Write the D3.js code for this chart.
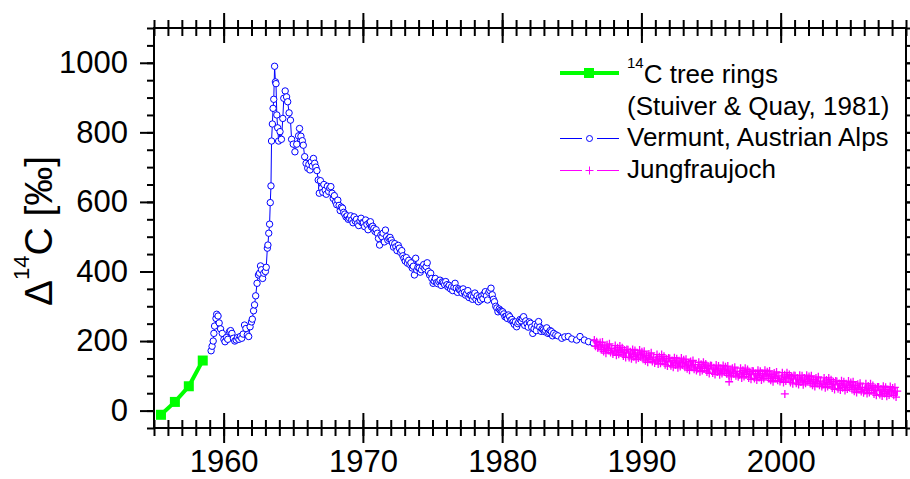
<!DOCTYPE html>
<html>
<head>
<meta charset="utf-8">
<script src="https://cdn.jsdelivr.net/npm/d3@7"></script>
<style>
  body { margin: 0; background: #fff; }
  text { font-family: "Liberation Sans", Arial, sans-serif; fill: #000; }
  .axis .tick line { stroke: #000; stroke-width: 2; }
  .axis text { font-size: 31px; font-family: "Liberation Sans", Arial, sans-serif; }
  .legend text { font-size: 26px; }
</style>
</head>
<body>
<div id="chart"></div>
<script>
const width = 910;
const height = 479;

// 14C tree rings (Stuiver & Quay, 1981)
const treeYears = [1955.5, 1956.5, 1957.5, 1958.5];
const treeD14C = [-12, 25, 70, 144];

// Vermunt, Austrian Alps: [year, D14C]
const vermunt = [
  [1959.10,172],[1959.17,185],[1959.25,200],[1959.30,222],[1959.35,243],[1959.45,265],[1959.50,277],[1959.60,272],
  [1959.68,252],[1959.78,235],[1959.90,222],[1960.02,205],[1960.10,198],[1960.20,210],[1960.30,205],[1960.42,227],
  [1960.50,230],[1960.60,222],[1960.70,208],[1960.80,200],[1960.90,203],[1961.00,210],[1961.10,205],[1961.20,213],
  [1961.30,208],[1961.40,220],[1961.50,246],[1961.60,236],[1961.70,218],[1961.80,213],[1961.90,241],[1962.00,255],
  [1962.06,263],[1962.15,287],[1962.22,304],[1962.30,330],[1962.40,366],[1962.50,390],[1962.58,395],[1962.65,416],
  [1962.72,405],[1962.80,380],[1962.88,395],[1963.00,400],[1963.06,412],[1963.14,467],[1963.18,476],[1963.24,510],
  [1963.30,536],[1963.35,598],[1963.40,646],[1963.44,775],[1963.50,824],[1963.55,869],[1963.60,895],[1963.66,990],
  [1963.72,945],[1963.76,940],[1963.82,850],[1963.88,813],[1963.95,775],[1964.05,802],[1964.15,780],[1964.25,840],
  [1964.32,898],[1964.42,919],[1964.52,902],[1964.60,888],[1964.70,856],[1964.80,835],[1964.88,780],[1965.00,766],
  [1965.12,744],[1965.25,766],[1965.38,790],[1965.45,811],[1965.55,789],[1965.65,776],[1965.72,763],[1965.82,730],
  [1965.92,711],
  [1966.04,697],[1966.12,708],[1966.20,692],[1966.29,715],[1966.37,703],[1966.45,725],[1966.54,711],[1966.62,700],
  [1966.70,690],[1966.79,663],[1966.87,625],[1966.95,661],
  [1967.04,640],[1967.12,628],[1967.20,650],[1967.29,634],[1967.37,622],[1967.45,645],[1967.54,630],[1967.62,640],
  [1967.70,644],[1967.79,625],[1967.87,610],[1967.95,618],
  [1968.04,600],[1968.12,592],[1968.20,605],[1968.29,590],[1968.37,575],[1968.45,585],[1968.54,582],[1968.62,570],
  [1968.70,565],[1968.79,557],[1968.87,560],[1968.95,550],
  [1969.04,553],[1969.12,560],[1969.20,548],[1969.29,540],[1969.37,557],[1969.45,545],[1969.54,550],[1969.62,538],
  [1969.70,532],[1969.79,545],[1969.87,553],[1969.95,540],
  [1970.04,540],[1970.12,529],[1970.20,548],[1970.29,535],[1970.37,520],[1970.45,540],[1970.54,543],[1970.62,528],
  [1970.70,530],[1970.79,524],[1970.87,515],[1970.95,520],
  [1971.04,510],[1971.12,495],[1971.20,476],[1971.29,505],[1971.37,500],[1971.45,510],[1971.54,485],[1971.62,519],
  [1971.70,500],[1971.79,490],[1971.87,495],[1971.95,498],
  [1972.04,490],[1972.12,482],[1972.20,470],[1972.29,480],[1972.37,471],[1972.45,460],[1972.54,475],[1972.62,467],
  [1972.70,455],[1972.79,460],[1972.87,445],[1972.95,438],
  [1973.04,430],[1973.12,440],[1973.20,424],[1973.29,432],[1973.37,420],[1973.45,425],[1973.54,410],[1973.62,415],
  [1973.70,390],[1973.79,438],[1973.87,404],[1973.95,412],
  [1974.04,410],[1974.12,398],[1974.20,405],[1974.29,415],[1974.37,420],[1974.45,408],[1974.54,414],[1974.62,425],
  [1974.70,400],[1974.79,390],[1974.87,395],[1974.95,380],
  [1975.04,366],[1975.12,372],[1975.20,380],[1975.29,368],[1975.37,365],[1975.45,371],[1975.54,375],[1975.62,360],
  [1975.70,370],[1975.79,368],[1975.87,362],[1975.95,371],
  [1976.04,362],[1976.12,355],[1976.20,360],[1976.29,350],[1976.37,356],[1976.45,345],[1976.54,355],[1976.62,366],
  [1976.70,352],[1976.79,340],[1976.87,350],[1976.95,347],
  [1977.04,345],[1977.12,338],[1977.20,350],[1977.29,340],[1977.37,332],[1977.45,337],[1977.54,345],[1977.62,325],
  [1977.70,332],[1977.79,330],[1977.87,320],[1977.95,328],
  [1978.04,338],[1978.12,320],[1978.20,330],[1978.29,313],[1978.37,325],[1978.45,318],[1978.54,330],[1978.62,322],
  [1978.70,335],[1978.79,342],[1978.87,330],[1978.95,318],
  [1979.04,340],[1979.12,345],[1979.20,352],[1979.29,333],[1979.37,320],[1979.45,313],[1979.54,300],[1979.62,295],
  [1979.70,284],[1979.79,292],[1979.87,288],[1979.95,285],
  [1980.04,284],[1980.12,278],[1980.20,270],[1980.29,272],[1980.37,265],[1980.45,275],[1980.54,270],[1980.62,260],
  [1980.70,262],[1980.79,255],[1980.87,248],[1980.95,255],
  [1981.04,241],[1981.12,250],[1981.20,255],[1981.29,262],[1981.37,258],[1981.45,265],[1981.54,270],[1981.62,245],
  [1981.70,258],[1981.79,250],[1981.87,240],[1981.95,255],
  [1982.04,251],[1982.12,240],[1982.20,222],[1982.29,235],[1982.37,248],[1982.45,230],[1982.54,245],[1982.62,256],
  [1982.70,240],[1982.79,228],[1982.87,235],[1982.95,232],
  [1983.04,227],[1983.12,230],[1983.20,238],[1983.29,222],[1983.37,225],[1983.45,230],[1983.54,227],[1983.62,215],
  [1983.70,222],[1983.85,218],
  [1984.00,215],[1984.28,208],[1984.50,212],[1984.75,213],[1985.00,206],[1985.35,203],[1985.59,213],[1985.90,203],
  [1986.20,198],[1986.55,194]
];

// Jungfraujoch, monthly values from Aug 1986
const jfjStart = 1986.62;
const jfjMonthly = [
  203,185,198,180,190,
  196,175,197,170,186,165,189,173,192,167,179,163,
  169,187,159,181,162,186,167,181,157,174,153,176,
  175,153,169,149,176,155,173,147,166,151,174,154,
  169,148,171,143,159,139,163,147,166,141,154,137,
  143,161,134,155,136,161,142,156,132,149,128,151,
  150,129,144,125,152,131,149,123,143,127,151,131,
  146,125,148,120,137,116,141,125,144,119,132,115,
  121,139,112,133,115,139,121,134,111,128,107,130,
  129,108,123,104,131,111,128,103,122,107,130,111,
  126,106,128,101,117,97,122,106,125,100,113,97,
  103,122,94,116,98,122,104,118,94,112,90,114,
  113,92,107,88,116,95,113,88,107,92,116,97,
  112,92,114,87,104,83,108,93,111,87,100,84,
  90,109,81,103,85,109,91,104,81,99,77,101,
  100,79,94,75,102,82,100,74,94,79,102,83,
  98,78,100,73,89,69,94,78,97,73,85,69,
  75,94,66,88,69,94,75,89,65,83,61,85,
  84,63,78,59,86,66,83,58,77,62,85,66,
  81,61,83,56,72,52,76,61,79,55,67,51,
  58,77,49,71,52,77,58,72,48,66,44,68,
  68,46,62,42,70,49,67,41,61,45,69,50,
  65,44,67,39,56
];
const jfjOutliers = [[1996.3, 83], [2000.3, 48]];

const majorYears = [1960, 1970, 1980, 1990, 2000];
const minorYears = d3.range(1955, 2010, 1);
const majorD14C = [0, 200, 400, 600, 800, 1000];
const minorD14C = d3.range(-50, 1101, 50);

const svg = d3.select("#chart")
  .append("svg")
  .attr("width", width)
  .attr("height", height);

const xScale = d3.scaleLinear().domain([1955, 2009]).range([154, 906]);
const yScale = d3.scaleLinear().domain([-50, 1100]).range([428, 28]);

const plotTop = yScale(1100);
const plotBottom = yScale(-50);
const plotLeft = xScale(1955);
const plotRight = xScale(2009);

function cleanAxis(g) {
  g.select(".domain").remove();
}

// x axes, ticks crossing the frame
[plotBottom, plotTop].forEach(function(yPos, i) {
  svg.append("g").attr("class", "axis").attr("transform", "translate(0," + yPos + ")")
    .call(d3.axisBottom(xScale).tickValues(minorYears).tickSize(8).tickFormat("")).call(cleanAxis);
  svg.append("g").attr("class", "axis").attr("transform", "translate(0," + yPos + ")")
    .call(d3.axisTop(xScale).tickValues(minorYears).tickSize(8).tickFormat("")).call(cleanAxis);
  svg.append("g").attr("class", "axis").attr("transform", "translate(0," + yPos + ")")
    .call(d3.axisBottom(xScale).tickValues(majorYears).tickSize(15).tickPadding(7)
      .tickFormat(i === 0 ? d3.format("d") : "")).call(cleanAxis);
  svg.append("g").attr("class", "axis").attr("transform", "translate(0," + yPos + ")")
    .call(d3.axisTop(xScale).tickValues(majorYears).tickSize(15).tickFormat("")).call(cleanAxis);
});

// y axes, ticks outward
svg.append("g").attr("class", "axis").attr("transform", "translate(" + plotLeft + ",0)")
  .call(d3.axisLeft(yScale).tickValues(minorD14C).tickSize(7).tickFormat("")).call(cleanAxis);
svg.append("g").attr("class", "axis").attr("transform", "translate(" + plotLeft + ",0)")
  .call(d3.axisLeft(yScale).tickValues(majorD14C).tickSize(14).tickPadding(12)
    .tickFormat(d3.format("d"))).call(cleanAxis);
svg.append("g").attr("class", "axis").attr("transform", "translate(" + plotRight + ",0)")
  .call(d3.axisRight(yScale).tickValues(minorD14C).tickSize(7).tickFormat("")).call(cleanAxis);
svg.append("g").attr("class", "axis").attr("transform", "translate(" + plotRight + ",0)")
  .call(d3.axisRight(yScale).tickValues(majorD14C).tickSize(14).tickFormat("")).call(cleanAxis);

svg.append("rect")
  .attr("x", plotLeft)
  .attr("y", plotTop)
  .attr("width", plotRight - plotLeft)
  .attr("height", plotBottom - plotTop)
  .attr("fill", "none")
  .attr("stroke", "#000")
  .attr("stroke-width", 2);

// y label
const yLabel = svg.append("text")
  .attr("transform", "translate(52,231) rotate(-90)")
  .attr("text-anchor", "middle")
  .attr("font-size", "39px");
yLabel.append("tspan").text("\u0394");
yLabel.append("tspan").attr("font-size", "22px").attr("dy", "-23").text("14");
yLabel.append("tspan").attr("dy", "23").text("C [\u2030]");

// Vermunt
const line = d3.line()
  .x(function(d) { return xScale(d[0]); })
  .y(function(d) { return yScale(d[1]); });

svg.append("path")
  .datum(vermunt)
  .attr("d", line)
  .attr("fill", "none")
  .attr("stroke", "#0000ff")
  .attr("stroke-width", 1);

svg.selectAll(".vermunt-dot")
  .data(vermunt)
  .enter()
  .append("circle")
  .attr("class", "vermunt-dot")
  .attr("cx", function(d) { return xScale(d[0]); })
  .attr("cy", function(d) { return yScale(d[1]); })
  .attr("r", 3.2)
  .attr("fill", "#fff")
  .attr("stroke", "#0000ff")
  .attr("stroke-width", 1);

// Jungfraujoch
const jfjData = jfjMonthly.map(function(v, i) {
  return [jfjStart + i / 12, v];
});

svg.append("path")
  .datum(jfjData)
  .attr("d", line)
  .attr("fill", "none")
  .attr("stroke", "#ff00ff")
  .attr("stroke-width", 1.5);

function plusPath(d) {
  const px = xScale(d[0]);
  const py = yScale(d[1]);
  return "M" + (px - 4) + "," + py + "H" + (px + 4) + "M" + px + "," + (py - 4) + "V" + (py + 4);
}

svg.selectAll(".jfj-plus")
  .data(jfjData.concat(jfjOutliers))
  .enter()
  .append("path")
  .attr("class", "jfj-plus")
  .attr("d", plusPath)
  .attr("stroke", "#ff00ff")
  .attr("stroke-width", 1.3);

// tree rings
const treeData = treeYears.map(function(yr, i) { return [yr, treeD14C[i]]; });

svg.append("path")
  .datum(treeData)
  .attr("d", line)
  .attr("fill", "none")
  .attr("stroke", "#00ff00")
  .attr("stroke-width", 4);

svg.selectAll(".tree-box")
  .data(treeData)
  .enter()
  .append("rect")
  .attr("class", "tree-box")
  .attr("x", function(d) { return xScale(d[0]) - 5; })
  .attr("y", function(d) { return yScale(d[1]) - 5; })
  .attr("width", 10)
  .attr("height", 10)
  .attr("fill", "#00ff00");

// legend
const legend = svg.append("g").attr("class", "legend");

legend.append("line").attr("x1", 560).attr("x2", 619).attr("y1", 73).attr("y2", 73)
  .attr("stroke", "#00ff00").attr("stroke-width", 4);
legend.append("rect").attr("x", 584).attr("y", 68).attr("width", 10).attr("height", 10)
  .attr("fill", "#00ff00");

const t1 = legend.append("text").attr("x", 627).attr("y", 83);
t1.append("tspan").attr("font-size", "15px").attr("dy", "-15").text("14");
t1.append("tspan").attr("dy", "15").text("C tree rings");
legend.append("text").attr("x", 627).attr("y", 115).text("(Stuiver & Quay, 1981)");

legend.append("line").attr("x1", 560).attr("x2", 582).attr("y1", 138.5).attr("y2", 138.5)
  .attr("stroke", "#0000ff").attr("stroke-width", 1);
legend.append("line").attr("x1", 597).attr("x2", 619).attr("y1", 138.5).attr("y2", 138.5)
  .attr("stroke", "#0000ff").attr("stroke-width", 1);
legend.append("circle").attr("cx", 589.5).attr("cy", 138.5).attr("r", 3)
  .attr("fill", "#fff").attr("stroke", "#0000ff");
legend.append("text").attr("x", 627).attr("y", 146).text("Vermunt, Austrian Alps");

legend.append("line").attr("x1", 560).attr("x2", 582).attr("y1", 170.5).attr("y2", 170.5)
  .attr("stroke", "#ff00ff").attr("stroke-width", 1);
legend.append("line").attr("x1", 597).attr("x2", 619).attr("y1", 170.5).attr("y2", 170.5)
  .attr("stroke", "#ff00ff").attr("stroke-width", 1);
legend.append("path").attr("d", "M585.5,170.5H593.5M589.5,166.5V174.5")
  .attr("stroke", "#ff00ff").attr("stroke-width", 1);
legend.append("text").attr("x", 627).attr("y", 178).text("Jungfraujoch");
</script>
</body>
</html>
